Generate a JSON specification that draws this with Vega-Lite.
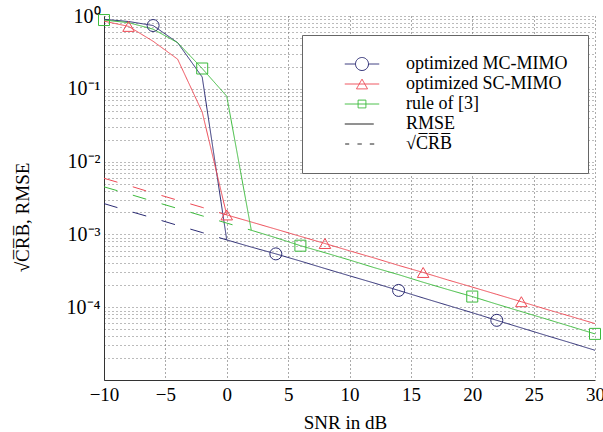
{
  "$schema": "https://vega.github.io/schema/vega-lite/v6.json",
  "width": 491,
  "height": 364,
  "autosize": "none",
  "padding": {"left": 104, "top": 16, "right": 8, "bottom": 52},
  "background": "white",
  "config": {"view": {"stroke": null}, "font": "Liberation Serif"},
  "data": {
    "values": [
      {"series": "optimized MC-MIMO", "kind": "RMSE", "snr": -10, "value": 0.9},
      {"series": "optimized MC-MIMO", "kind": "RMSE", "snr": -8, "value": 0.84},
      {"series": "optimized MC-MIMO", "kind": "RMSE", "snr": -6, "value": 0.74, "marker": true},
      {"series": "optimized MC-MIMO", "kind": "RMSE", "snr": -4, "value": 0.43},
      {"series": "optimized MC-MIMO", "kind": "RMSE", "snr": -2, "value": 0.145},
      {"series": "optimized MC-MIMO", "kind": "RMSE", "snr": 0, "value": 0.00084},
      {"series": "optimized MC-MIMO", "kind": "RMSE", "snr": 2, "value": 0.00067},
      {"series": "optimized MC-MIMO", "kind": "RMSE", "snr": 4, "value": 0.00054, "marker": true},
      {"series": "optimized MC-MIMO", "kind": "RMSE", "snr": 6, "value": 0.00043},
      {"series": "optimized MC-MIMO", "kind": "RMSE", "snr": 8, "value": 0.00034},
      {"series": "optimized MC-MIMO", "kind": "RMSE", "snr": 10, "value": 0.00027},
      {"series": "optimized MC-MIMO", "kind": "RMSE", "snr": 12, "value": 0.000215},
      {"series": "optimized MC-MIMO", "kind": "RMSE", "snr": 14, "value": 0.00017, "marker": true},
      {"series": "optimized MC-MIMO", "kind": "RMSE", "snr": 16, "value": 0.000134},
      {"series": "optimized MC-MIMO", "kind": "RMSE", "snr": 18, "value": 0.000106},
      {"series": "optimized MC-MIMO", "kind": "RMSE", "snr": 20, "value": 0.000084},
      {"series": "optimized MC-MIMO", "kind": "RMSE", "snr": 22, "value": 0.000066, "marker": true},
      {"series": "optimized MC-MIMO", "kind": "RMSE", "snr": 24, "value": 0.000052},
      {"series": "optimized MC-MIMO", "kind": "RMSE", "snr": 26, "value": 0.000041},
      {"series": "optimized MC-MIMO", "kind": "RMSE", "snr": 28, "value": 0.0000325},
      {"series": "optimized MC-MIMO", "kind": "RMSE", "snr": 30, "value": 0.0000256},
      {"series": "optimized SC-MIMO", "kind": "RMSE", "snr": -10, "value": 0.85},
      {"series": "optimized SC-MIMO", "kind": "RMSE", "snr": -8, "value": 0.72, "marker": true},
      {"series": "optimized SC-MIMO", "kind": "RMSE", "snr": -6, "value": 0.45},
      {"series": "optimized SC-MIMO", "kind": "RMSE", "snr": -4, "value": 0.255},
      {"series": "optimized SC-MIMO", "kind": "RMSE", "snr": -2, "value": 0.048},
      {"series": "optimized SC-MIMO", "kind": "RMSE", "snr": 0, "value": 0.00185, "marker": true},
      {"series": "optimized SC-MIMO", "kind": "RMSE", "snr": 2, "value": 0.00148},
      {"series": "optimized SC-MIMO", "kind": "RMSE", "snr": 4, "value": 0.00118},
      {"series": "optimized SC-MIMO", "kind": "RMSE", "snr": 6, "value": 0.00094},
      {"series": "optimized SC-MIMO", "kind": "RMSE", "snr": 8, "value": 0.00075, "marker": true},
      {"series": "optimized SC-MIMO", "kind": "RMSE", "snr": 10, "value": 0.000595},
      {"series": "optimized SC-MIMO", "kind": "RMSE", "snr": 12, "value": 0.000475},
      {"series": "optimized SC-MIMO", "kind": "RMSE", "snr": 14, "value": 0.000375},
      {"series": "optimized SC-MIMO", "kind": "RMSE", "snr": 16, "value": 0.0003, "marker": true},
      {"series": "optimized SC-MIMO", "kind": "RMSE", "snr": 18, "value": 0.000237},
      {"series": "optimized SC-MIMO", "kind": "RMSE", "snr": 20, "value": 0.000189},
      {"series": "optimized SC-MIMO", "kind": "RMSE", "snr": 22, "value": 0.00015},
      {"series": "optimized SC-MIMO", "kind": "RMSE", "snr": 24, "value": 0.000119, "marker": true},
      {"series": "optimized SC-MIMO", "kind": "RMSE", "snr": 26, "value": 0.000094},
      {"series": "optimized SC-MIMO", "kind": "RMSE", "snr": 28, "value": 0.000075},
      {"series": "optimized SC-MIMO", "kind": "RMSE", "snr": 30, "value": 0.0000595},
      {"series": "rule of [3]", "kind": "RMSE", "snr": -10, "value": 0.88, "marker": true},
      {"series": "rule of [3]", "kind": "RMSE", "snr": -8, "value": 0.81},
      {"series": "rule of [3]", "kind": "RMSE", "snr": -6, "value": 0.66},
      {"series": "rule of [3]", "kind": "RMSE", "snr": -4, "value": 0.43},
      {"series": "rule of [3]", "kind": "RMSE", "snr": -2, "value": 0.19, "marker": true},
      {"series": "rule of [3]", "kind": "RMSE", "snr": 0, "value": 0.079},
      {"series": "rule of [3]", "kind": "RMSE", "snr": 2, "value": 0.00114},
      {"series": "rule of [3]", "kind": "RMSE", "snr": 4, "value": 0.0009},
      {"series": "rule of [3]", "kind": "RMSE", "snr": 6, "value": 0.0007, "marker": true},
      {"series": "rule of [3]", "kind": "RMSE", "snr": 8, "value": 0.00056},
      {"series": "rule of [3]", "kind": "RMSE", "snr": 10, "value": 0.000445},
      {"series": "rule of [3]", "kind": "RMSE", "snr": 12, "value": 0.00035},
      {"series": "rule of [3]", "kind": "RMSE", "snr": 14, "value": 0.00028},
      {"series": "rule of [3]", "kind": "RMSE", "snr": 16, "value": 0.00022},
      {"series": "rule of [3]", "kind": "RMSE", "snr": 18, "value": 0.000175},
      {"series": "rule of [3]", "kind": "RMSE", "snr": 20, "value": 0.00014, "marker": true},
      {"series": "rule of [3]", "kind": "RMSE", "snr": 22, "value": 0.00011},
      {"series": "rule of [3]", "kind": "RMSE", "snr": 24, "value": 0.000087},
      {"series": "rule of [3]", "kind": "RMSE", "snr": 26, "value": 0.000069},
      {"series": "rule of [3]", "kind": "RMSE", "snr": 28, "value": 0.0000545},
      {"series": "rule of [3]", "kind": "RMSE", "snr": 30, "value": 0.000043, "marker": true},
      {"series": "optimized MC-MIMO", "kind": "CRB", "snr": -10, "value": 0.00265},
      {"series": "optimized MC-MIMO", "kind": "CRB", "snr": -8, "value": 0.0021},
      {"series": "optimized MC-MIMO", "kind": "CRB", "snr": -6, "value": 0.00168},
      {"series": "optimized MC-MIMO", "kind": "CRB", "snr": -4, "value": 0.00133},
      {"series": "optimized MC-MIMO", "kind": "CRB", "snr": -2, "value": 0.00106},
      {"series": "optimized MC-MIMO", "kind": "CRB", "snr": 0, "value": 0.00084},
      {"series": "optimized SC-MIMO", "kind": "CRB", "snr": -10, "value": 0.0059},
      {"series": "optimized SC-MIMO", "kind": "CRB", "snr": -8, "value": 0.0047},
      {"series": "optimized SC-MIMO", "kind": "CRB", "snr": -6, "value": 0.0037},
      {"series": "optimized SC-MIMO", "kind": "CRB", "snr": -4, "value": 0.00295},
      {"series": "optimized SC-MIMO", "kind": "CRB", "snr": -2, "value": 0.00235},
      {"series": "optimized SC-MIMO", "kind": "CRB", "snr": 0, "value": 0.00185},
      {"series": "rule of [3]", "kind": "CRB", "snr": -10, "value": 0.0045},
      {"series": "rule of [3]", "kind": "CRB", "snr": -8, "value": 0.0036},
      {"series": "rule of [3]", "kind": "CRB", "snr": -6, "value": 0.00285},
      {"series": "rule of [3]", "kind": "CRB", "snr": -4, "value": 0.00227},
      {"series": "rule of [3]", "kind": "CRB", "snr": -2, "value": 0.0018},
      {"series": "rule of [3]", "kind": "CRB", "snr": 0, "value": 0.00143},
      {"series": "rule of [3]", "kind": "CRB", "snr": 2, "value": 0.00114}
    ]
  },
  "encoding": {
    "x": {
      "field": "snr",
      "type": "quantitative",
      "scale": {"domain": [-10, 30], "nice": false, "zero": false},
      "axis": {
        "title": "SNR in dB",
        "values": [-10, -5, 0, 5, 10, 15, 20, 25, 30],
        "labelExpr": "datum.value < 0 ? '\u2212' + abs(datum.value) : '' + datum.value",
        "labelFontSize": 19,
        "labelColor": "black",
        "labelFlush": false,
        "labelBaseline": "alphabetic",
        "labelPadding": 20,
        "ticks": false,
        "grid": true,
        "gridColor": "#555",
        "gridDash": [1, 3],
        "gridWidth": 1,
        "domainColor": "#333",
        "titleFontSize": 19,
        "titleFontWeight": "normal",
        "titleColor": "black",
        "titleX": 241,
        "titleY": 48,
        "titleBaseline": "alphabetic"
      }
    },
    "y": {
      "field": "value",
      "type": "quantitative",
      "scale": {"type": "log", "domain": [0.00001, 1], "nice": false},
      "axis": {
        "title": "\u221aC\u0305R\u0305B\u0305, RMSE",
        "values": [0.00001, 0.00002, 0.00003, 0.00004, 0.00005, 0.00006, 0.00007, 0.00008, 0.00009,
                   0.0001, 0.0002, 0.0003, 0.0004, 0.0005, 0.0006, 0.0007, 0.0008, 0.0009,
                   0.001, 0.002, 0.003, 0.004, 0.005, 0.006, 0.007, 0.008, 0.009,
                   0.01, 0.02, 0.03, 0.04, 0.05, 0.06, 0.07, 0.08, 0.09,
                   0.1, 0.2, 0.3, 0.4, 0.5, 0.6, 0.7, 0.8, 0.9, 1],
        "labelExpr": "datum.value == 1 ? '10\u2070' : datum.value == 0.1 ? '10\u207b\u00b9' : datum.value == 0.01 ? '10\u207b\u00b2' : datum.value == 0.001 ? '10\u207b\u00b3' : datum.value == 0.0001 ? '10\u207b\u2074' : ''",
        "labelFontSize": 20,
        "labelColor": "black",
        "labelPadding": 4,
        "labelBaseline": "middle",
        "labelOverlap": false,
        "labelFlush": false,
        "ticks": false,
        "grid": true,
        "gridColor": "#777",
        "gridDash": [1, 3],
        "gridWidth": 1,
        "domainColor": "#333",
        "titleFontSize": 19,
        "titleFontWeight": "normal",
        "titleColor": "black",
        "titleAngle": 270,
        "titleAlign": "center",
        "titleBaseline": "alphabetic",
        "titleX": -76,
        "titleY": 201
      }
    },
    "color": {
      "field": "series",
      "type": "nominal",
      "scale": {
        "domain": ["optimized MC-MIMO", "optimized SC-MIMO", "rule of [3]", "RMSE", "\u221aC\u0305R\u0305B\u0305"],
        "range": ["#2b2b73", "#ee4a55", "#3dbb3d", "#111111", "#111111"]
      },
      "legend": {
        "title": null,
        "orient": "none",
        "legendX": 198,
        "legendY": 19,
        "padding": 20,
        "fillColor": "white",
        "strokeColor": "#666",
        "labelFont": "Liberation Serif",
        "labelFontSize": 18,
        "labelColor": "black",
        "labelLimit": 400,
        "symbolSize": 169,
        "symbolOffset": 31,
        "labelOffset": 35,
        "rowPadding": 2,
        "symbolStrokeWidth": 1,
        "symbolType": "stroke",
        "encode": {
          "symbols": {
            "update": {
              "shape": {"signal": "datum.index === 0 ? 'M-2.65,0H-1M1,0H2.65M1,0A1,1,0,1,1,-1,0A1,1,0,1,1,1,0' : datum.index === 1 ? 'M-2.65,0H2.65M0,-0.75L0.85,0.75L-0.85,0.75Z' : datum.index === 2 ? 'M-2.65,0H2.65M-0.6,-0.6H0.6V0.6H-0.6Z' : datum.index === 3 ? 'M-2.65,0H1.8' : 'M-2.58,0H-1.97M-0.69,0H-0.03M1.2,0H1.88'"},
              "fill": {"value": "transparent"},
              "strokeDash": {"value": [1, 0]},
              "opacity": {"value": 1}
            }
          }
        }
      }
    }
  },
  "layer": [
    {
      "mark": {"type": "line", "strokeWidth": 1, "clip": true},
      "encoding": {
        "strokeDash": {
          "field": "kind",
          "type": "nominal",
          "scale": {"domain": ["RMSE", "CRB"], "range": [[1, 0], [14, 16]]},
          "legend": null
        }
      }
    },
    {
      "transform": [{"filter": "datum.marker === true"}],
      "mark": {"type": "point", "filled": false, "strokeWidth": 1, "opacity": 1},
      "encoding": {
        "shape": {
          "field": "series",
          "type": "nominal",
          "scale": {"domain": ["optimized MC-MIMO", "optimized SC-MIMO", "rule of [3]"], "range": ["circle", "triangle-up", "square"]},
          "legend": null
        },
        "size": {
          "field": "series",
          "type": "ordinal",
          "scale": {"domain": ["optimized MC-MIMO", "optimized SC-MIMO", "rule of [3]"], "range": [144, 121, 81]},
          "legend": null
        }
      }
    }
  ]
}
